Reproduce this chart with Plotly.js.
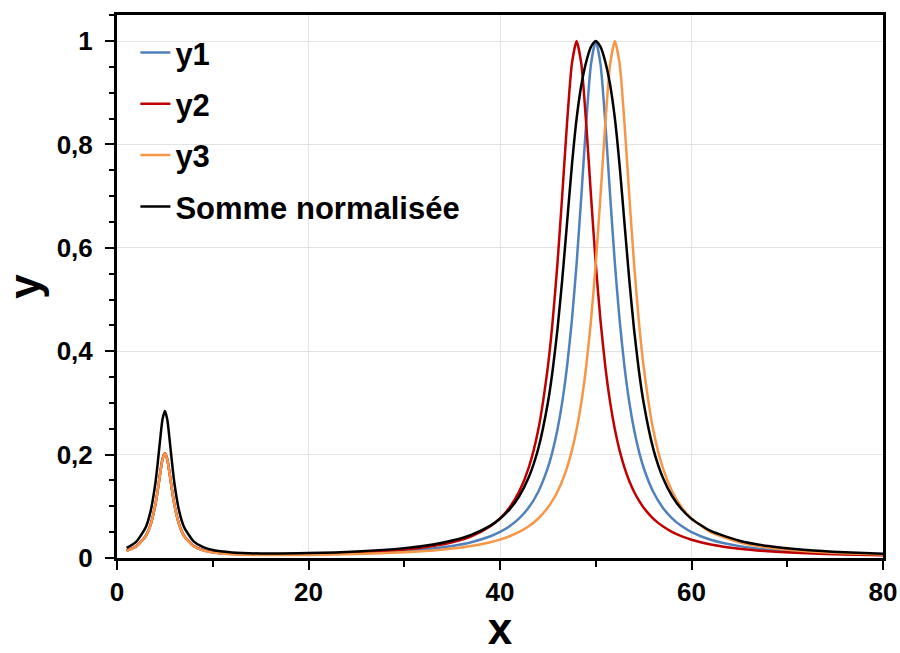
<!DOCTYPE html>
<html>
<head>
<meta charset="utf-8">
<script src="https://cdn.plot.ly/plotly-3.0.1.min.js"></script>
<style>html,body{margin:0;padding:0;background:#fff}#chart{width:900px;height:653px}</style>
</head>
<body>
<div id="chart"></div>
<script>
// x positions of the sampled points
const xVals = [1, 2, 3, 3.5, 4, 4.25, 4.5, 4.75, 5, 5.25, 5.5, 5.75, 6, 6.5, 7, 8, 9, 10, 12, 15, 20, 25, 30, 33, 35, 37, 39, 40, 41, 42, 43, 44, 45, 45.5, 46, 46.5, 47, 47.5, 48, 48.5, 49, 49.5, 50, 50.5, 51, 51.5, 52, 52.5, 53, 53.5, 54, 54.5, 55, 56, 57, 58, 59, 60, 62, 65, 68, 72, 76, 80];

const y1 = [0.0140, 0.0223, 0.0424, 0.0639, 0.1025, 0.1306, 0.1626, 0.1908, 0.2026, 0.1909, 0.1627, 0.1307, 0.1027, 0.0643, 0.0429, 0.0230, 0.0149, 0.0110, 0.0077, 0.0063, 0.0067, 0.0089, 0.0134, 0.0183, 0.0232, 0.0306, 0.0421, 0.0504, 0.0615, 0.0765, 0.0975, 0.1282, 0.1747, 0.2071, 0.2485, 0.3016, 0.3702, 0.4584, 0.5694, 0.7016, 0.8410, 0.9549, 1.0000, 0.9549, 0.8410, 0.7016, 0.5694, 0.4584, 0.3702, 0.3016, 0.2485, 0.2071, 0.1746, 0.1281, 0.0974, 0.0763, 0.0613, 0.0502, 0.0354, 0.0230, 0.0161, 0.0108, 0.0078, 0.0058];

const y2 = [0.0141, 0.0225, 0.0426, 0.0642, 0.1027, 0.1308, 0.1628, 0.1911, 0.2029, 0.1912, 0.1629, 0.1310, 0.1030, 0.0646, 0.0431, 0.0233, 0.0152, 0.0113, 0.0081, 0.0068, 0.0076, 0.0104, 0.0164, 0.0233, 0.0306, 0.0421, 0.0615, 0.0765, 0.0976, 0.1283, 0.1747, 0.2486, 0.3703, 0.4584, 0.5694, 0.7016, 0.8410, 0.9549, 1.0000, 0.9549, 0.8410, 0.7016, 0.5694, 0.4584, 0.3702, 0.3016, 0.2485, 0.2071, 0.1746, 0.1488, 0.1281, 0.1113, 0.0974, 0.0763, 0.0613, 0.0502, 0.0419, 0.0354, 0.0263, 0.0180, 0.0131, 0.0091, 0.0067, 0.0051];

const y3 = [0.0138, 0.0221, 0.0422, 0.0637, 0.1023, 0.1303, 0.1623, 0.1906, 0.2024, 0.1907, 0.1624, 0.1305, 0.1025, 0.0641, 0.0426, 0.0227, 0.0146, 0.0107, 0.0073, 0.0058, 0.0060, 0.0077, 0.0111, 0.0147, 0.0182, 0.0232, 0.0306, 0.0356, 0.0421, 0.0504, 0.0614, 0.0764, 0.0975, 0.1113, 0.1281, 0.1488, 0.1746, 0.2071, 0.2485, 0.3016, 0.3702, 0.4584, 0.5694, 0.7016, 0.8410, 0.9549, 1.0000, 0.9549, 0.8410, 0.7016, 0.5694, 0.4584, 0.3702, 0.2485, 0.1746, 0.1281, 0.0974, 0.0763, 0.0502, 0.0304, 0.0202, 0.0131, 0.0091, 0.0067];

const ySum = [0.0196, 0.0313, 0.0595, 0.0897, 0.1438, 0.1832, 0.2280, 0.2677, 0.2842, 0.2678, 0.2281, 0.1834, 0.1441, 0.0902, 0.0601, 0.0323, 0.0209, 0.0154, 0.0108, 0.0088, 0.0095, 0.0126, 0.0191, 0.0263, 0.0337, 0.0448, 0.0627, 0.0760, 0.0941, 0.1193, 0.1560, 0.2119, 0.3004, 0.3632, 0.4423, 0.5386, 0.6479, 0.7576, 0.8499, 0.9154, 0.9594, 0.9887, 1.0000, 0.9887, 0.9594, 0.9154, 0.8499, 0.7576, 0.6479, 0.5386, 0.4423, 0.3632, 0.3002, 0.2117, 0.1558, 0.1190, 0.0938, 0.0757, 0.0523, 0.0334, 0.0231, 0.0154, 0.0110, 0.0082];

const seriesNames = ['y1', 'y2', 'y3', 'Somme normalisée'];
const seriesColors = ['#4F81BD', '#C00000', '#F79646', '#000000'];
const seriesData = [y1, y2, y3, ySum];

const yTickVals = [0, 0.2, 0.4, 0.6, 0.8, 1];
const xTickVals = [0, 20, 40, 60, 80];

const FONT = 'Liberation Sans, Arial, sans-serif';

const traces = seriesData.map((ys, i) => ({
  type: 'scatter',
  mode: 'lines',
  x: xVals,
  y: ys,
  name: seriesNames[i],
  legendgroup: 'g' + i,
  line: {color: seriesColors[i], width: 2.5, shape: 'spline', smoothing: 0.6},
  hoverinfo: 'x+y+name'
}));

const layout = {
  width: 900,
  height: 653,
  paper_bgcolor: '#ffffff',
  plot_bgcolor: '#ffffff',
  separators: ', ',
  margin: {l: 117, r: 17, t: 15, b: 95, pad: 0},
  font: {family: FONT, color: '#000000'},
  showlegend: true,
  legend: {
    x: 0.024, y: 0.98, xanchor: 'left', yanchor: 'top',
    bgcolor: 'rgba(0,0,0,0)',
    font: {family: FONT, size: 31, color: '#000000', weight: 'bold'},
    tracegroupgap: 8,
    itemwidth: 30
  },
  xaxis: {
    range: [0, 80],
    tickvals: xTickVals,
    ticks: 'outside', ticklen: 9, tickwidth: 2, tickcolor: '#000',
    minor: {dtick: 10, tick0: 0, ticks: 'outside', ticklen: 6, tickwidth: 2, tickcolor: '#000', showgrid: false},
    showline: true, linecolor: '#000', linewidth: 3, mirror: true,
    showgrid: true, gridcolor: '#e3e3e3', gridwidth: 1,
    zeroline: false,
    tickfont: {family: FONT, size: 26, color: '#000', weight: 'bold'},
    ticklabelstandoff: 0,
    title: {text: 'x', font: {family: FONT, size: 44, color: '#000', weight: 'bold'}, standoff: 14}
  },
  yaxis: {
    range: [0, 1.0503],
    tickvals: yTickVals,
    ticks: 'outside', ticklen: 9, tickwidth: 2, tickcolor: '#000',
    minor: {dtick: 0.05, tick0: 0, ticks: 'outside', ticklen: 5, tickwidth: 2, tickcolor: '#000', showgrid: false},
    showline: true, linecolor: '#000', linewidth: 3, mirror: true,
    showgrid: true, gridcolor: '#e3e3e3', gridwidth: 1,
    zeroline: false,
    tickfont: {family: FONT, size: 26, color: '#000', weight: 'bold'},
    ticklabelstandoff: 7,
    title: {text: 'y', font: {family: FONT, size: 44, color: '#000', weight: 'bold'}, standoff: 16}
  }
};

Plotly.newPlot('chart', traces, layout, {displayModeBar: false, staticPlot: true});
</script>
</body>
</html>
